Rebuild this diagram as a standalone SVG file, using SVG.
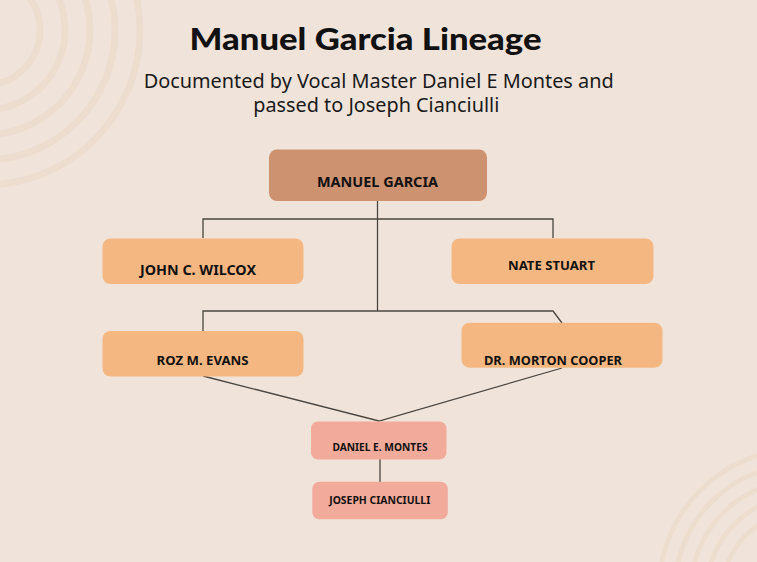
<svg xmlns="http://www.w3.org/2000/svg" width="757" height="562" viewBox="0 0 757 562">
<style>
.ring{fill:none;stroke:#ECDDCF}
.lbl{font-family:"Noto Sans","Liberation Sans",sans-serif;font-weight:700;fill:#111;text-anchor:middle}
.conn{fill:none;stroke:#4a4540;stroke-width:1.3}
.brown{fill:#CD9270}
.orange{fill:#F5B781}
.pink{fill:#F2AA9B}
</style>
<rect width="757" height="562" fill="#F0E4DA"/>
<g id="decor-top-left" class="ring" stroke-width="7">
<circle cx="-15" cy="30" r="55"/>
<circle cx="-15" cy="30" r="80"/>
<circle cx="-15" cy="30" r="105"/>
<circle cx="-15" cy="30" r="130"/>
<circle cx="-15" cy="30" r="155"/>
</g>
<g id="decor-bottom-right" class="ring" stroke-width="5">
<circle cx="800" cy="590" r="77"/>
<circle cx="800" cy="590" r="93"/>
<circle cx="800" cy="590" r="109"/>
<circle cx="800" cy="590" r="125"/>
<circle cx="800" cy="590" r="141"/>
</g>
<g id="title">
<text x="365.5" y="50" font-family="Lato,'Noto Sans',sans-serif" font-weight="900" font-size="30" fill="#111" text-anchor="middle" textLength="352" lengthAdjust="spacingAndGlyphs">Manuel Garcia Lineage</text>
<text x="378.7" y="88.3" font-family="'Noto Sans','Liberation Sans',sans-serif" font-weight="400" font-size="19" fill="#1a1a1a" text-anchor="middle" textLength="470" lengthAdjust="spacingAndGlyphs">Documented by Vocal Master Daniel E Montes and</text>
<text x="376.3" y="112.3" font-family="'Noto Sans','Liberation Sans',sans-serif" font-weight="400" font-size="19" fill="#1a1a1a" text-anchor="middle" textLength="246" lengthAdjust="spacingAndGlyphs">passed to Joseph Cianciulli</text>
</g>
<g id="connectors" class="conn">
<path d="M377.5 201V311"/>
<path d="M203 238V219H553V238"/>
<path d="M203 331V311H553L562 323"/>
<path d="M203 376L379 421L562 368"/>
<path d="M380 453V482"/>
</g>
<g id="node-manuel-garcia" class="node">
<rect class="brown" x="269" y="149.5" width="218" height="51.5" rx="8"/>
<text class="lbl" x="377.5" y="187" font-size="14" textLength="121" lengthAdjust="spacingAndGlyphs">MANUEL GARCIA</text>
</g>
<g id="node-john-wilcox" class="node">
<rect class="orange" x="102.5" y="238.5" width="201" height="45.5" rx="8"/>
<text class="lbl" x="198" y="274.5" font-size="13.5" textLength="116" lengthAdjust="spacingAndGlyphs">JOHN C. WILCOX</text>
</g>
<g id="node-nate-stuart" class="node">
<rect class="orange" x="451.5" y="238.5" width="202" height="45.5" rx="8"/>
<text class="lbl" x="551.5" y="270" font-size="13" textLength="87" lengthAdjust="spacingAndGlyphs">NATE STUART</text>
</g>
<g id="node-roz-evans" class="node">
<rect class="orange" x="102.5" y="331" width="201" height="45.5" rx="8"/>
<text class="lbl" x="202.5" y="364.5" font-size="13" textLength="92" lengthAdjust="spacingAndGlyphs">ROZ M. EVANS</text>
</g>
<g id="node-morton-cooper" class="node">
<rect class="orange" x="461.5" y="322.7" width="201" height="45" rx="8"/>
<text class="lbl" x="553" y="364.5" font-size="13" textLength="138" lengthAdjust="spacingAndGlyphs">DR. MORTON COOPER</text>
</g>
<g id="node-daniel-montes" class="node">
<rect class="pink" x="311" y="421.5" width="135.5" height="38" rx="7"/>
<text class="lbl" x="380" y="450.5" font-size="11" textLength="95" lengthAdjust="spacingAndGlyphs">DANIEL E. MONTES</text>
</g>
<g id="node-joseph-cianciulli" class="node">
<rect class="pink" x="312.3" y="481.7" width="135.5" height="37.6" rx="7"/>
<text class="lbl" x="379.7" y="504.3" font-size="11" textLength="101" lengthAdjust="spacingAndGlyphs">JOSEPH CIANCIULLI</text>
</g>
</svg>
